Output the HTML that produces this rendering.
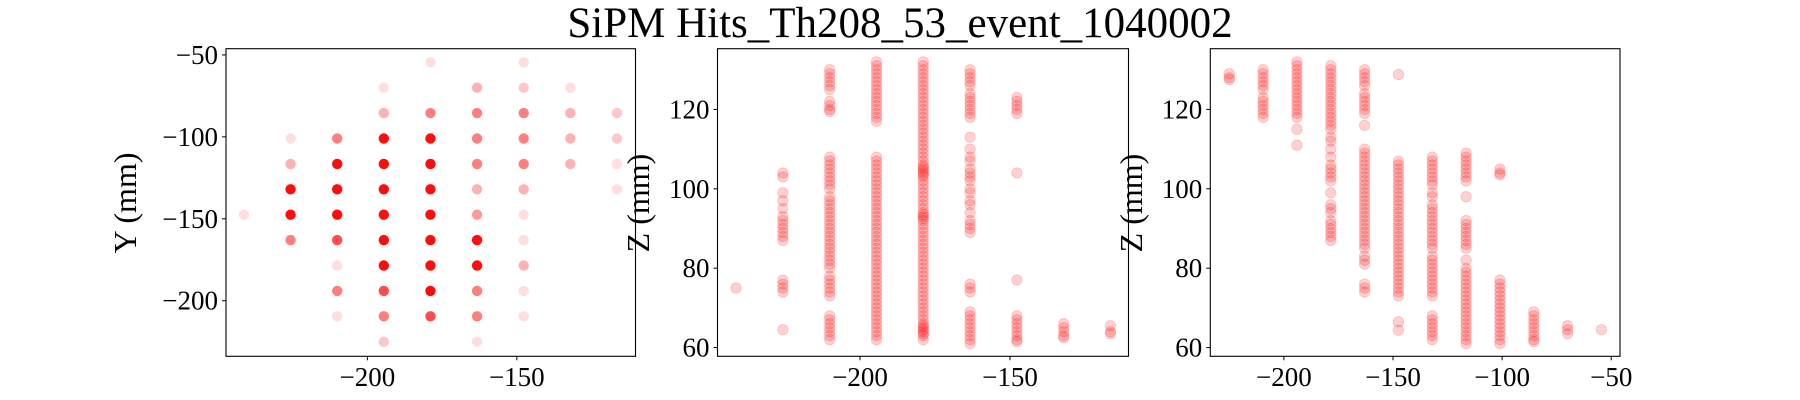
<!DOCTYPE html>
<html><head><meta charset="utf-8">
<style>
html,body{margin:0;padding:0;background:#fff;}
svg{display:block;font-family:"Liberation Serif","DejaVu Serif",serif;}
</style></head>
<body>
<svg id="fig" width="1800" height="400" viewBox="0 0 1800 400" xmlns="http://www.w3.org/2000/svg">
<rect width="1800" height="400" fill="#fff"/>
<text x="900" y="37" font-size="43" text-anchor="middle">SiPM Hits_Th208_53_event_1040002</text>
</svg>
<script>
// Panel 1: X vs Y
const p1Cols = [-241.3,-225.7,-210.1,-194.5,-178.9,-163.3,-147.7,-132.1,-116.5];
const p1Ys = [
 [-147.5],
 [-101,-116.5,-132,-147.5,-163],
 [-101,-116.5,-132,-147.5,-163,-178.5,-194,-209.5],
 [-70,-85.5,-101,-116.5,-132,-147.5,-163,-178.5,-194,-209.5,-225],
 [-54.5,-85.5,-101,-116.5,-132,-147.5,-163,-178.5,-194,-209.5],
 [-70,-85.5,-101,-116.5,-132,-147.5,-163,-178.5,-194,-209.5,-225],
 [-54.5,-70,-85.5,-101,-116.5,-132,-147.5,-163,-178.5,-194,-209.5],
 [-70,-85.5,-101,-116.5],
 [-85.5,-101,-116.5,-132]
];
const p1Levels = [
 [1],
 [1,2,5,5,3],
 [3,5,5,5,4,1,3,1],
 [1,2,5,5,5,5,5,5,4,3,1.5],
 [1,3,5,5,5,5,5,5,5,4],
 [2,3,3,3,2,2.5,5,5,3,3,1],
 [1,1.5,3,3,3,2,1,1,2,1,1],
 [1,2,2,2],
 [1.5,1.5,1,1]
];
const p1XTicks = [-200,-150];
const p1YTicks = [-50,-100,-150,-200];

// Panel 2: X vs Z
const p2Cols = [-241.3,-225.7,-210.1,-194.5,-178.9,-163.3,-147.7,-132.1,-116.5];
const p2Z = [
 [75],
 [104,103,99,97,95,93,92,91,90,89,88,87,77,76,75,74,64.5],
 [130,129,128,127,126,125,122,121,120,119.5,108,107,106,105,104,103,102,101,100,98,97,96,95,94,93,92,91,90,89,88,87,86,85,84,83,82,81,80,78,77,76,75,74,73,68,67,66,65,64,63,62],
 [132,131,130,129,128,127,126,125,124,123,122,121,120,119,118,117,108,107,106,105,104,103,102,101,100,99,98,97,96,95,94,93,92,91,90,89,88,87,86,85,84,83,82,81,80,79,78,77,76,75,74,73,72,71,70,69,68,67,66,65,64,63,62],
 [132,131,130,129,128,127,126,125,124,123,122,121,120,119,118,117,116,115,114,113,112,111,110,109,108,107,106,105,104,103,102,101,100,99,98,97,96,95,94,93,92,91,90,89,88,87,86,85,84,83,82,81,80,79,78,77,76,75,74,73,72,71,70,69,68,67,66,65,64,63,62,104.5,103.5,105.5,93.5,92.5,64.5,63.5,65.5],
 [130,129,128,127,126,124,123,122,121,120,119,118,113,110,108,107,105,104,103,102,100,99,97,96,94,92,91,90,89,76,75,74,69,68,67,66,65,64,63,62,61],
 [123,122,121,120,119,104,77,68,67,66,65,64,63,62,61.5],
 [66,65,64,63,62.5],
 [65.5,64,63.5]
];
const p2XTicks = [-200,-150];
const p2ZTicks = [60,80,100,120];

// Panel 3: Y vs Z
const p3Cols = [-225,-209.5,-194,-178.5,-163,-147.5,-132,-116.5,-101,-85.5,-70,-54.5];
const p3Z = [
 [129,128,127.5],
 [130,129,128,127,126,125,123,122,121,120,119,118],
 [132,131,130,129,128,127,126,125,124,123,122,121,120,119,118,115,111],
 [131,130,129,128,127,126,125,124,123,122,121,120,119,118,117,116,115,113,112,110,108,106,105,104,103,102,99,96,95,94,92,91,90,89,88,87],
 [130,129,128,127,126,124,123,122,121,120,119,116,110,109,108,107,106,105,104,103,102,101,100,99,98,97,96,95,94,93,92,91,90,89,88,87,86,85,83,82,81,76,75,74],
 [128.8,107,106,105,104,103,102,101,100,99,98,97,96,95,94,93,92,91,90,89,88,87,86,85,84,83,82,81,80,79,78,77,76,75,74,73,66.5,64.4],
 [108,107,106,105,104,103,102,101,99,98,96,95,94,93,92,91,90,89,88,87,86,85,83,82,81,80,79,78,77,76,75,74,73,68,67,66,65,64,63,62],
 [109,108,107,106,105,104,103,102,98,92,91,90,89,88,87,86,85,82,80,79,78,77,76,75,74,73,72,71,70,69,68,67,66,65,64,63,62,61],
 [105,104,103.5,77,76,75,74,73,72,71,70,69,68,67,66,65,64,63,62,61],
 [69,68,67,66,65,64,63,62,61.5],
 [65.5,64.5,63.5],
 [64.5]
];
const p3XTicks = [-200,-150,-100,-50];
const p3ZTicks = [60,80,100,120];

const NS = "http://www.w3.org/2000/svg";
const svg = document.getElementById('fig');
function mk(tag, attrs, parent){const e=document.createElementNS(NS,tag);for(const k in attrs)e.setAttribute(k,attrs[k]);(parent||svg).appendChild(e);return e;}
function lin(d0,d1,r0,r1){return v=>r0+(v-d0)*(r1-r0)/(d1-d0);}
const levelOpacity = {1:0.13,1.5:0.22,2:0.3,2.5:0.4,3:0.5,4:0.7,5:0.95};

function panel(name, L, R, xd, yd, xt, yt, ylabel, labelX){
  const T=48.7, B=356.3;
  const sx=lin(xd[0],xd[1],L,R), sy=lin(yd[0],yd[1],B,T);
  const g=mk('g',{});
  
  
  const marks=mk('g',{},g);
  
  
  const frame=mk('rect',{x:L,y:T,width:R-L,height:B-T,fill:'none',stroke:'#000','stroke-width':1.1},g);
  
  
  xt.forEach(v=>{
    const x=sx(v);
    mk('line',{x1:x,x2:x,y1:B,y2:B+4,stroke:'#000','stroke-width':1},g);
    const t=mk('text',{x:x,y:386,'font-size':27,'text-anchor':'middle'},g);
    
    
    t.textContent=(v<0?'\u2212':'')+Math.abs(v);
  });
  yt.forEach(v=>{
    const y=sy(v);
    mk('line',{x1:L-4,x2:L,y1:y,y2:y,stroke:'#000','stroke-width':1},g);
    const t=mk('text',{x:L-8,y:y+9,'font-size':27,'text-anchor':'end'},g);
    
    
    t.textContent=(v<0?'\u2212':'')+Math.abs(v);
  });
  const yl=mk('text',{x:labelX,y:203,'font-size':32,'text-anchor':'middle',transform:`rotate(-90 ${labelX} 203)`},g);
  
  
  yl.textContent=ylabel;
  return {sx,sy,marks};
}

const a1=panel('xy-panel',226,635.5,[-247.3,-110.3],[-233.9,-46.2],p1XTicks,p1YTicks,'Y (mm)',136);
p1Cols.forEach((cx,i)=>{
  p1Ys[i].forEach((y,j)=>{
    const c=mk('circle',{cx:a1.sx(cx),cy:a1.sy(y),r:5.2,fill:'#ff0000','fill-opacity':levelOpacity[p1Levels[i][j]]},a1.marks);
    
    
  });
});

const a2=panel('xz-panel',717.5,1128.5,[-247.5,-110.5],[57.8,135.3],p2XTicks,p2ZTicks,'Z (mm)',649);
p2Cols.forEach((cx,i)=>{
  p2Z[i].forEach(z=>{
    const c=mk('circle',{cx:a2.sx(cx),cy:a2.sy(z),r:5.2,fill:'#ff0000','fill-opacity':0.18,stroke:'#ff0000','stroke-opacity':0.2,'stroke-width':0.8},a2.marks);
    
    
  });
});

const a3=panel('yz-panel',1210.3,1620,[-233.7,-46],[57.8,135.3],p3XTicks,p3ZTicks,'Z (mm)',1142);
p3Cols.forEach((cx,i)=>{
  p3Z[i].forEach(z=>{
    const c=mk('circle',{cx:a3.sx(cx),cy:a3.sy(z),r:5.2,fill:'#ff0000','fill-opacity':0.18,stroke:'#ff0000','stroke-opacity':0.2,'stroke-width':0.8},a3.marks);
    
    
  });
});
</script>
</body></html>
